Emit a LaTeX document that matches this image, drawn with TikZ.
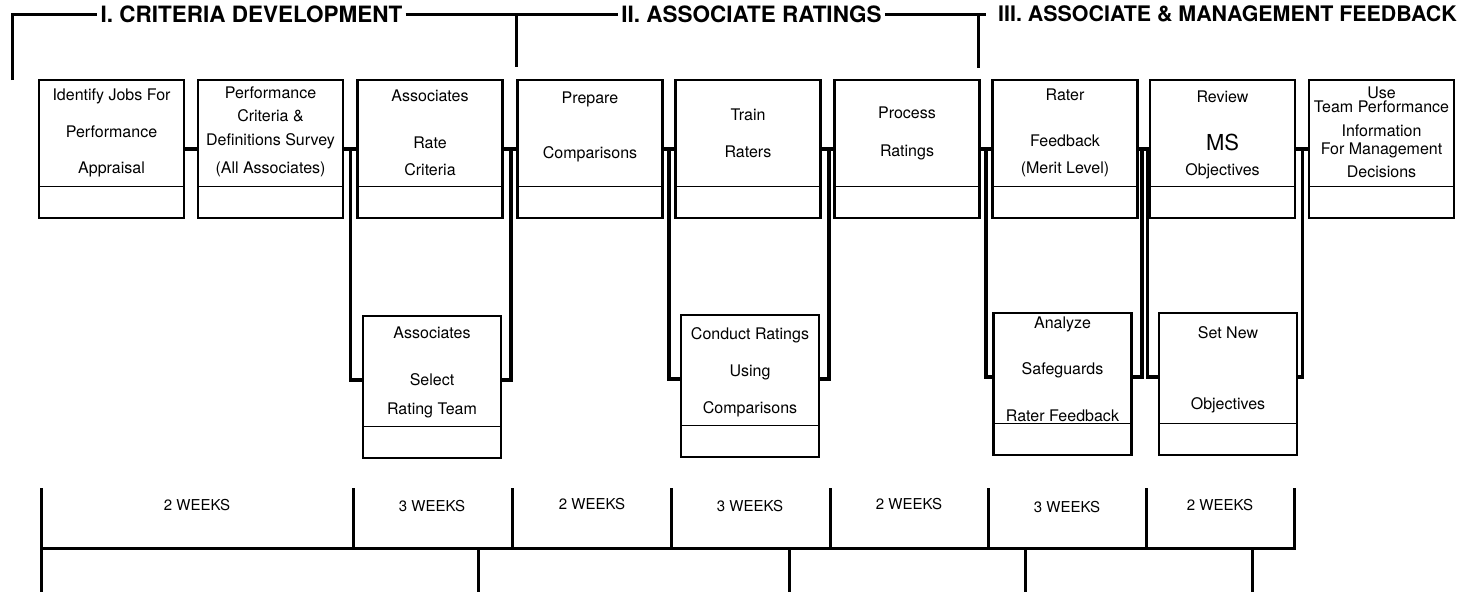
\documentclass[tikz,border=0pt]{standalone}
\usepackage{fontspec}
\setmainfont{TeX Gyre Heros}
\usepackage{tikz}
\usetikzlibrary{calc}

\tikzset{
	stepbox/.style={draw, line width=2.8pt, inner sep=0pt, outer sep=0pt,
		minimum width=145pt, minimum height=138pt,
		path picture={\draw[line width=1pt] ([yshift=32pt]path picture bounding box.south west) -- ([yshift=32pt]path picture bounding box.south east);}},
	subbox/.style={stepbox, minimum width=138pt, minimum height=142pt},
	boxtext/.style={anchor=north, align=center, inner sep=0pt, font=\fontsize{16}{16}\selectfont},
	phase/.style={inner sep=3pt, font=\fontsize{22.5}{22.5}\selectfont\bfseries},
	weeks/.style={inner sep=0pt, font=\fontsize{15}{15}\selectfont},
	link/.style={line width=3.5pt},
	rule/.style={line width=3pt},
}

\begin{document}
\begin{tikzpicture}[x=1pt, y=-1pt]
	\useasboundingbox (0,0) rectangle (1465,592);

	\node[stepbox] (b1) at (111.5,149) {};
	\node[stepbox] (b2) at (270.5,149) {};
	\node[stepbox] (b3) at (430,149) {};
	\node[stepbox] (b4) at (590,149) {};
	\node[stepbox] (b5) at (748,149) {};
	\node[stepbox] (b6) at (907,149) {};
	\node[stepbox] (b7) at (1065,149) {};
	\node[stepbox] (b8) at (1222.5,149) {};
	\node[stepbox] (b9) at (1381.5,149) {};
	\node[subbox] (s1) at (432,387) {};
	\node[subbox] (s2) at (750,386) {};
	\node[subbox] (s3) at (1062.5,384) {};
	\node[subbox] (s4) at (1228,384) {};

	\node[boxtext] (t1) at (111.5,89) {Identify Jobs For\\[20.5pt]Performance\\[20.5pt]Appraisal};
	\node[boxtext] (t2) at (270.5,87) {Performance\\[7pt]Criteria \&\\[8pt]Definitions Survey\\[12pt](All Associates)};
	\node[boxtext] (t3) at (430,90) {Associates\\[31pt]Rate\\[11pt]Criteria};
	\node[boxtext] (t4) at (590,92) {Prepare\\[39pt]Comparisons};
	\node[boxtext] (t5) at (748,109) {Train\\[21pt]Raters};
	\node[boxtext] (t6) at (907,107) {Process\\[22pt]Ratings};
	\node[boxtext] (t7) at (1065,89) {Rater\\[30pt]Feedback\\[11pt](Merit Level)};
	\node[boxtext] (t8) at (1222.5,91) {Review\\[30pt]{\fontsize{22}{22}\selectfont MS}\\[9pt]Objectives};
	\node[boxtext] (t9) at (1381.5,87) {Use\\[-2pt]Team Performance\\[8pt]Information\\[2pt]For Management\\[7pt]Decisions};
	\node[boxtext] (u1) at (432,327) {Associates\\[31pt]Select\\[13pt]Rating Team};
	\node[boxtext] (u2) at (750,327) {Conduct Ratings\\[21pt]Using\\[21pt]Comparisons};
	\node[boxtext] (u3) at (1062.5,317) {Analyze\\[30pt]Safeguards\\[31pt]Rater Feedback};
	\node[boxtext] (u4) at (1228,326) {Set New\\[55pt]Objectives};

	\draw[link] (b1) -- (b2);
	\draw[link] (b2) -- (b3);
	\draw[link] (b3) -- (b4);
	\draw[link] (b4) -- (b5);
	\draw[link] (b5) -- (b6);
	\draw[link] (b6) -- (b7);
	\draw[link] (b7) -- (b8);
	\draw[link] (b8) -- (b9);
	\draw[link] ($(b2.east)!.5!(b3.west)$) |- ([yshift=7pt]s1.west);
	\draw[link] ($(b3.east)!.55!(b4.west)$) |- ([yshift=7pt]s1.east);
	\draw[link] ($(b4.east)!.5!(b5.west)$) |- ([yshift=7pt]s2.west);
	\draw[link] ($(b5.east)!.6!(b6.west)$) |- ([yshift=7pt]s2.east);
	\draw[link] ($(b6.east)!.5!(b7.west)$) |- ([yshift=7pt]s3.west);
	\draw[link] ($(b7.east)!.35!(b8.west)$) |- ([yshift=7pt]s3.east);
	\draw[link] ($(b7.east)!.8!(b8.west)$) |- ([yshift=7pt]s4.west);
	\draw[link] ($(b8.east)!.55!(b9.west)$) |- ([yshift=7pt]s4.east);

	\node[phase] (h1) at (251.5,14) {I. CRITERIA DEVELOPMENT};
	\node[phase] (h2) at (751.5,14) {II. ASSOCIATE RATINGS};
	\node[phase, anchor=west, font=\fontsize{21.4}{21.4}\selectfont\bfseries] (h3) at (995,14) {III. ASSOCIATE \& MANAGEMENT FEEDBACK};
	\coordinate (c1) at (12,80);
	\coordinate (c2) at (516,14);
	\coordinate (c3) at (516,67);
	\coordinate (c4) at (978,14);
	\coordinate (c5) at (978,68);
	\coordinate (c6) at (986,14);
	\draw[rule] (c1) |- (h1.west);
	\draw[rule] (h1.east) -- (c2) -- (h2.west);
	\draw[rule] (c2) -- (c3);
	\draw[rule] (h2.east) -- (c6);
	\draw[rule] (c4) -- (c5);

	\draw[rule] (41,488) -- (41,592);
	\draw[rule] (1294,488) |- (41,548);
	\draw[rule] (353,488) -- (353,548);
	\draw[rule] (512,488) -- (512,548);
	\draw[rule] (671,488) -- (671,548);
	\draw[rule] (830,488) -- (830,548);
	\draw[rule] (988,488) -- (988,548);
	\draw[rule] (1146,488) -- (1146,548);
	\draw[rule] (478,548) -- (478,592);
	\draw[rule] (789,548) -- (789,592);
	\draw[rule] (1025,548) -- (1025,592);
	\draw[rule] (1252,548) -- (1252,592);
	\node[weeks] (w1) at (197,505) {2 WEEKS};
	\node[weeks] (w2) at (432,506) {3 WEEKS};
	\node[weeks] (w3) at (592,504) {2 WEEKS};
	\node[weeks] (w4) at (750,506) {3 WEEKS};
	\node[weeks] (w5) at (909,504) {2 WEEKS};
	\node[weeks] (w6) at (1067,507) {3 WEEKS};
	\node[weeks] (w7) at (1220,505) {2 WEEKS};
\end{tikzpicture}
\end{document}
